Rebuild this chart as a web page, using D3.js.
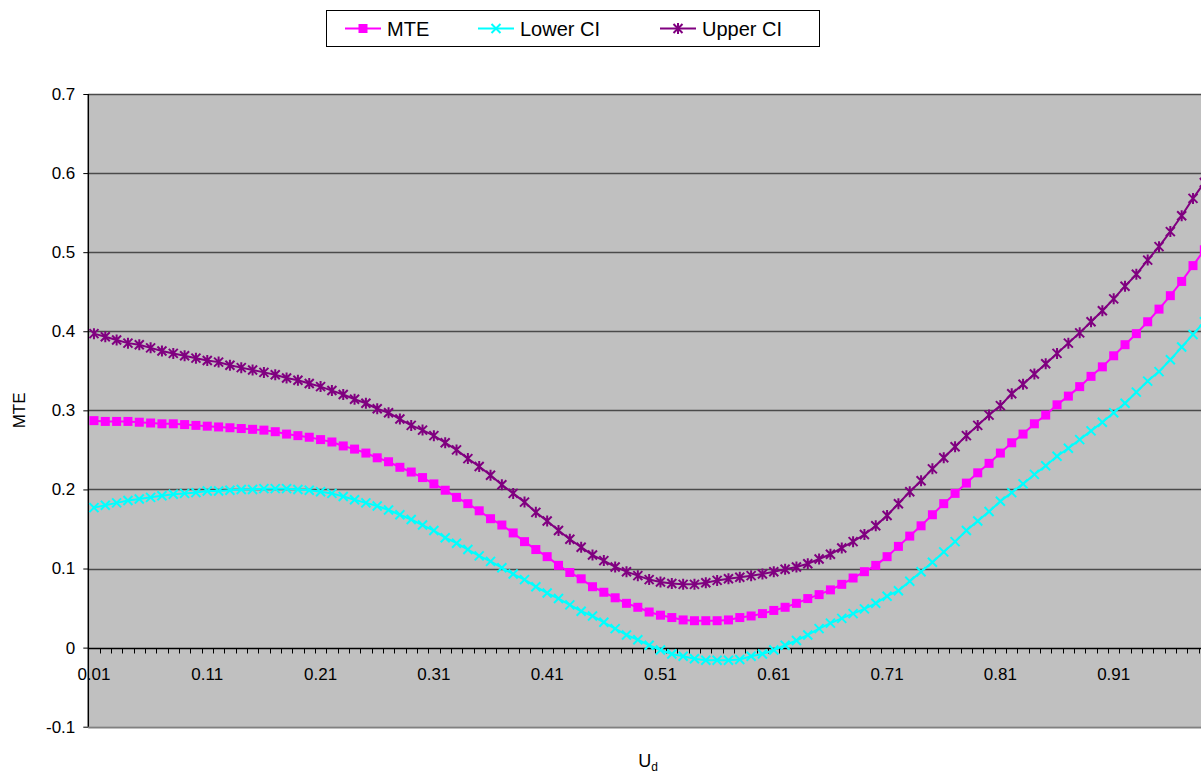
<!DOCTYPE html>
<html>
<head>
<meta charset="utf-8">
<script src="https://cdn.jsdelivr.net/npm/d3@7"></script>
<style>
  body { margin: 0; background: #fff; }
  text { font-family: "Liberation Sans", Arial, sans-serif; }
</style>
</head>
<body>
<div class="container"></div>
<script>
/* Data */
const categories = [
  0.01, 0.02, 0.03, 0.04, 0.05, 0.06, 0.07, 0.08, 0.09, 0.10,
  0.11, 0.12, 0.13, 0.14, 0.15, 0.16, 0.17, 0.18, 0.19, 0.20,
  0.21, 0.22, 0.23, 0.24, 0.25, 0.26, 0.27, 0.28, 0.29, 0.30,
  0.31, 0.32, 0.33, 0.34, 0.35, 0.36, 0.37, 0.38, 0.39, 0.40,
  0.41, 0.42, 0.43, 0.44, 0.45, 0.46, 0.47, 0.48, 0.49, 0.50,
  0.51, 0.52, 0.53, 0.54, 0.55, 0.56, 0.57, 0.58, 0.59, 0.60,
  0.61, 0.62, 0.63, 0.64, 0.65, 0.66, 0.67, 0.68, 0.69, 0.70,
  0.71, 0.72, 0.73, 0.74, 0.75, 0.76, 0.77, 0.78, 0.79, 0.80,
  0.81, 0.82, 0.83, 0.84, 0.85, 0.86, 0.87, 0.88, 0.89, 0.90,
  0.91, 0.92, 0.93, 0.94, 0.95, 0.96, 0.97, 0.98, 0.99
];
const mte = [
  0.287, 0.286, 0.286, 0.286, 0.285, 0.284, 0.283, 0.283, 0.282, 0.281,
  0.280, 0.279, 0.278, 0.277, 0.276, 0.275, 0.273, 0.270, 0.268, 0.266,
  0.263, 0.260, 0.255, 0.251, 0.246, 0.240, 0.235, 0.228, 0.222, 0.215,
  0.207, 0.199, 0.190, 0.182, 0.173, 0.163, 0.155, 0.145, 0.134, 0.124,
  0.115, 0.104, 0.095, 0.087, 0.077, 0.070, 0.063, 0.056, 0.051, 0.045,
  0.041, 0.038, 0.035, 0.034, 0.034, 0.034, 0.035, 0.038, 0.040, 0.043,
  0.047, 0.051, 0.056, 0.062, 0.067, 0.073, 0.080, 0.088, 0.096, 0.104,
  0.115, 0.128, 0.141, 0.154, 0.168, 0.182, 0.195, 0.208, 0.221, 0.233,
  0.246, 0.259, 0.270, 0.283, 0.294, 0.307, 0.318, 0.330, 0.343, 0.355,
  0.369, 0.383, 0.397, 0.412, 0.428, 0.445, 0.463, 0.483, 0.503
];
const lowerCI = [
  0.177, 0.180, 0.183, 0.186, 0.188, 0.190, 0.192, 0.194, 0.195, 0.196,
  0.198, 0.198, 0.199, 0.200, 0.200, 0.201, 0.201, 0.201, 0.200, 0.199,
  0.197, 0.195, 0.191, 0.187, 0.183, 0.179, 0.174, 0.168, 0.162, 0.155,
  0.148, 0.139, 0.132, 0.124, 0.116, 0.109, 0.101, 0.093, 0.086, 0.077,
  0.069, 0.062, 0.054, 0.046, 0.040, 0.032, 0.024, 0.016, 0.010, 0.003,
  -0.003, -0.008, -0.011, -0.014, -0.016, -0.016, -0.016, -0.015, -0.011, -0.008,
  -0.003, 0.003, 0.009, 0.016, 0.024, 0.031, 0.037, 0.043, 0.049, 0.056,
  0.065, 0.072, 0.084, 0.096, 0.108, 0.121, 0.134, 0.148, 0.160, 0.172,
  0.185, 0.196, 0.207, 0.219, 0.230, 0.242, 0.252, 0.263, 0.274, 0.285,
  0.297, 0.309, 0.323, 0.337, 0.349, 0.364, 0.380, 0.396, 0.412
];
const upperCI = [
  0.397, 0.393, 0.389, 0.385, 0.383, 0.379, 0.375, 0.372, 0.369, 0.366,
  0.363, 0.361, 0.357, 0.354, 0.351, 0.348, 0.345, 0.341, 0.338, 0.334,
  0.330, 0.325, 0.320, 0.314, 0.309, 0.302, 0.297, 0.289, 0.281, 0.275,
  0.268, 0.259, 0.250, 0.239, 0.229, 0.218, 0.206, 0.195, 0.184, 0.171,
  0.160, 0.148, 0.137, 0.127, 0.117, 0.110, 0.102, 0.096, 0.091, 0.086,
  0.083, 0.081, 0.080, 0.080, 0.082, 0.085, 0.087, 0.089, 0.091, 0.093,
  0.096, 0.099, 0.102, 0.106, 0.112, 0.118, 0.126, 0.134, 0.143, 0.154,
  0.167, 0.182, 0.197, 0.211, 0.226, 0.240, 0.254, 0.268, 0.281, 0.294,
  0.306, 0.321, 0.333, 0.346, 0.359, 0.372, 0.385, 0.398, 0.412, 0.426,
  0.441, 0.457, 0.472, 0.490, 0.507, 0.526, 0.546, 0.568, 0.588
];
const yTicks = [-0.1, 0, 0.1, 0.2, 0.3, 0.4, 0.5, 0.6, 0.7];
const xLabels = [0.01, 0.11, 0.21, 0.31, 0.41, 0.51, 0.61, 0.71, 0.81, 0.91];
const seriesNames = ['MTE', 'Lower CI', 'Upper CI'];

/* Layout */
const width = 1201;
const height = 774;
const plot = { left: 88.3, right: 1210, top: 94, bottom: 726.7 };
const tickFont = 17;

const colors = { 'MTE': '#FF00FF', 'Lower CI': '#00FFFF', 'Upper CI': '#800080' };
const seriesValues = { 'MTE': mte, 'Lower CI': lowerCI, 'Upper CI': upperCI };

const svg = d3.select('.container')
  .append('svg')
  .attr('width', width)
  .attr('height', height)
  .style('display', 'block');

const x = d3.scaleBand().domain(categories).range([plot.left, plot.right]).padding(0);
const y = d3.scaleLinear().domain([-0.1, 0.7]).range([plot.bottom, plot.top]);
const bw = x.bandwidth();
const cx = c => x(c) + bw / 2;

// plot area
svg.append('rect')
  .attr('x', plot.left).attr('y', plot.top)
  .attr('width', plot.right - plot.left).attr('height', plot.bottom - plot.top)
  .attr('fill', '#C0C0C0');

// gridlines
svg.append('g').selectAll('line')
  .data(yTicks.filter(d => d !== 0))
  .join('line')
  .attr('x1', plot.left).attr('x2', plot.right)
  .attr('y1', d => Math.round(y(d)) + 0.5).attr('y2', d => Math.round(y(d)) + 0.5)
  .attr('stroke', d => d === -0.1 ? '#808080' : '#4a4a4a')
  .attr('stroke-width', d => d === -0.1 ? 2 : 1.5);

// y axis
const yAxis = svg.append('g')
  .attr('transform', `translate(${plot.left},0)`)
  .attr('font-size', tickFont)
  .call(d3.axisLeft(y).tickValues(yTicks).tickSize(5).tickPadding(8)
    .tickFormat(d => d === 0 ? '0' : d.toFixed(1)));
yAxis.attr('font-size', tickFont).attr('font-family', '"Liberation Sans", Arial, sans-serif');
yAxis.select('.domain').attr('stroke', '#000').attr('stroke-width', 1.5).attr('d', `M0,${plot.top}V${plot.bottom}`);
yAxis.selectAll('.tick line').attr('stroke', '#000');
yAxis.selectAll('.tick text').attr('fill', '#000').attr('font-size', tickFont);

// x axis at value 0
const y0 = Math.round(y(0)) + 0.5;
const xAxis = svg.append('g');
xAxis.append('line')
  .attr('x1', plot.left).attr('x2', plot.right)
  .attr('y1', y0).attr('y2', y0)
  .attr('stroke', '#000').attr('stroke-width', 1.5);
xAxis.selectAll('.tk')
  .data(categories)
  .join('line')
  .attr('class', 'tk')
  .attr('x1', d => Math.round(x(d) + bw) + 0.5).attr('x2', d => Math.round(x(d) + bw) + 0.5)
  .attr('y1', y0).attr('y2', y0 + 5)
  .attr('stroke', '#000');
xAxis.selectAll('.lbl')
  .data(xLabels)
  .join('text')
  .attr('class', 'lbl')
  .attr('x', d => cx(d))
  .attr('y', y0 + 31)
  .attr('text-anchor', 'middle')
  .attr('font-size', tickFont)
  .text(d => d.toFixed(2));

// markers
function drawMarker(g, name, size) {
  const s = size / 2;
  const c = colors[name];
  if (name === 'MTE') {
    g.append('rect').attr('x', -s).attr('y', -s).attr('width', size).attr('height', size).attr('fill', c);
  } else if (name === 'Lower CI') {
    g.append('path').attr('d', `M${-s},${-s}L${s},${s}M${-s},${s}L${s},${-s}`)
      .attr('stroke', c).attr('stroke-width', 2).attr('fill', 'none');
  } else {
    g.append('path').attr('d', `M${-s},${-s}L${s},${s}M${-s},${s}L${s},${-s}M0,${-s - 1}L0,${s + 1}`)
      .attr('stroke', c).attr('stroke-width', 2).attr('fill', 'none');
  }
}

const line = d3.line().x((d, i) => cx(categories[i])).y(d => y(d));

seriesNames.forEach(name => {
  const vals = seriesValues[name];
  const g = svg.append('g');
  g.append('path')
    .datum(vals)
    .attr('d', line)
    .attr('fill', 'none')
    .attr('stroke', colors[name])
    .attr('stroke-width', 2);
  g.selectAll('.m')
    .data(vals)
    .join('g')
    .attr('class', 'm')
    .attr('transform', (d, i) => `translate(${cx(categories[i])},${y(d)})`)
    .each(function () { drawMarker(d3.select(this), name, 9); });
});

// axis titles
svg.append('text')
  .attr('transform', `translate(25,${(plot.top + plot.bottom) / 2}) rotate(-90)`)
  .attr('text-anchor', 'middle')
  .attr('font-size', 17)
  .text('MTE');

const xt = svg.append('text')
  .attr('x', 648).attr('y', 767)
  .attr('text-anchor', 'middle')
  .attr('font-size', 18);
xt.append('tspan').text('U');
xt.append('tspan').attr('font-size', 12).attr('dy', 4).text('d');

// legend
const legend = svg.append('g');
legend.append('rect')
  .attr('x', 326.5).attr('y', 10.5).attr('width', 493).attr('height', 36)
  .attr('fill', '#fff').attr('stroke', '#000');
const legendX = [345, 478, 660];
seriesNames.forEach((name, i) => {
  const lg = legend.append('g').attr('transform', `translate(${legendX[i]},28.5)`);
  lg.append('line').attr('x1', 0).attr('x2', 36).attr('stroke', colors[name]).attr('stroke-width', 2);
  const mg = lg.append('g').attr('transform', 'translate(18,0)');
  drawMarker(mg, name, 9);
  lg.append('text').attr('x', 42).attr('y', 7).attr('font-size', 20).text(name);
});
</script>
</body>
</html>
